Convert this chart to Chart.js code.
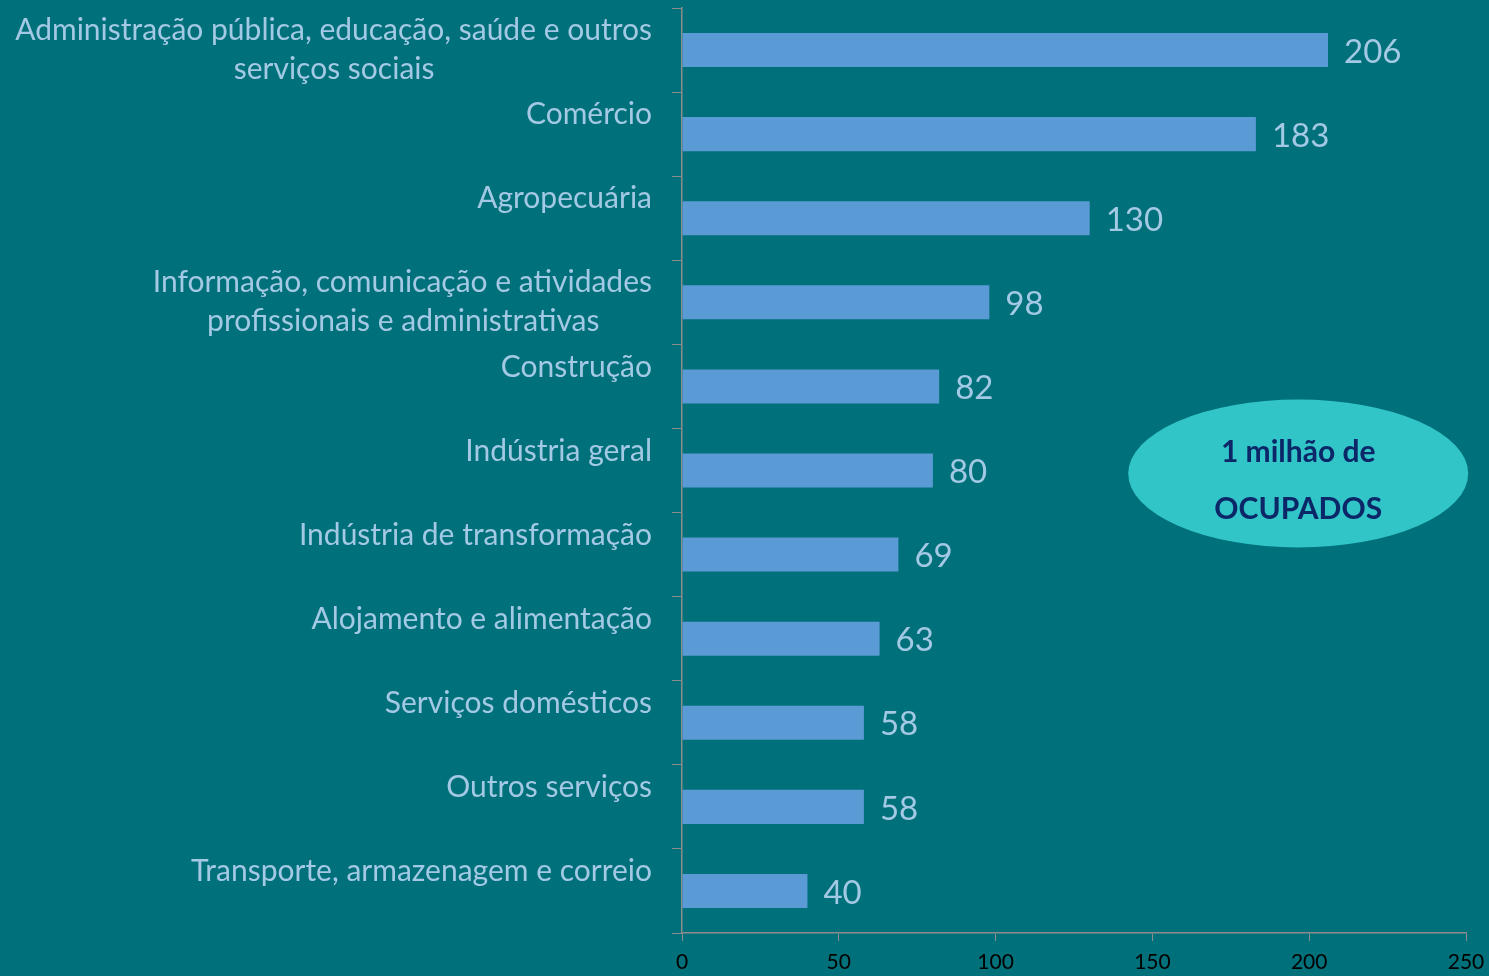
<!DOCTYPE html>
<html>
<head>
<meta charset="utf-8">
<script src="https://cdn.jsdelivr.net/npm/chart.js@4"></script>
<style>
  html, body { margin: 0; padding: 0; background: #00707a; }
  #wrap { width: 1489px; height: 976px; }
</style>
</head>
<body>
<div id="wrap"><canvas id="ocupchart"></canvas></div>
<script>
const categories = [
    ["Administração pública, educação, saúde e outros", "serviços sociais"],
    ["Comércio", ""],
    ["Agropecuária", ""],
    ["Informação, comunicação e atividades", "profissionais e administrativas"],
    ["Construção", ""],
    ["Indústria geral", ""],
    ["Indústria de transformação", ""],
    ["Alojamento e alimentação", ""],
    ["Serviços domésticos", ""],
    ["Outros serviços", ""],
    ["Transporte, armazenagem e correio", ""]
];
const ocupados = [206, 183, 130, 98, 82, 80, 69, 63, 58, 58, 40];
const xTicks = [0, 50, 100, 150, 200, 250];
const calloutLines = ["1 milhão de", "OCUPADOS"];

const labelColor = "#a3c9e4";
const axisColor = "#8c8c8c";
const fontName = "Lato, 'Open Sans', sans-serif";
const catFontSize = 30;

// second lines are centred under the first one: pad them on the right
const measureCtx = document.createElement("canvas").getContext("2d");
measureCtx.font = catFontSize + "px " + fontName;
const padChar = "\u200A";
let padW = measureCtx.measureText(padChar).width;
const padStr = padW > 0.5 ? padChar : " ";
if (padW <= 0.5) padW = measureCtx.measureText(" ").width;

const tickLabels = categories.map(function(lines) {
    if (lines[1] === "") return lines;
    const gap = (measureCtx.measureText(lines[0]).width - measureCtx.measureText(lines[1]).width) / 2;
    return [lines[0], lines[1] + padStr.repeat(Math.max(0, Math.round(gap / padW)))];
});

// value labels to the right of each bar
const valueLabels = {
    id: "valueLabels",
    afterDatasetsDraw(chart) {
        const ctx = chart.ctx;
        const meta = chart.getDatasetMeta(0);
        ctx.save();
        ctx.font = "33px " + fontName;
        ctx.fillStyle = labelColor;
        ctx.textAlign = "left";
        ctx.textBaseline = "middle";
        meta.data.forEach(function(bar, i) {
            ctx.fillText(String(ocupados[i]), bar.x + 16, bar.y + 2);
        });
        ctx.restore();
    }
};

// the "1 milhão de OCUPADOS" bubble
const callout = {
    id: "callout",
    afterDraw(chart) {
        const ctx = chart.ctx;
        const x = chart.scales.x.getPixelForValue(196.5);
        const y = chart.scales.y.getPixelForValue(5) + 3;
        ctx.save();
        ctx.fillStyle = "#31c5c8";
        ctx.beginPath();
        ctx.ellipse(x, y, 170, 74, 0, 0, Math.PI * 2);
        ctx.fill();
        ctx.fillStyle = "#0b2768";
        ctx.font = "bold 30px " + fontName;
        ctx.textAlign = "center";
        ctx.textBaseline = "middle";
        ctx.fillText(calloutLines[0], x, y - 21);
        ctx.fillText(calloutLines[1], x, y + 36);
        ctx.restore();
    }
};

new Chart(document.getElementById("ocupchart"), {
    type: "bar",
    data: {
        labels: tickLabels,
        datasets: [{
            label: "Ocupados",
            data: ocupados,
            backgroundColor: "#5b9bd5",
            borderWidth: 0,
            barPercentage: 0.405,
            categoryPercentage: 1
        }]
    },
    options: {
        indexAxis: "y",
        responsive: true,
        maintainAspectRatio: false,
        animation: false,
        layout: { padding: { top: 8, right: 23, left: 0, bottom: 0 } },
        plugins: {
            legend: { display: false },
            tooltip: { enabled: false }
        },
        scales: {
            x: {
                min: 0,
                max: 250,
                afterBuildTicks: function(axis) {
                    axis.ticks = xTicks.map(function(v) { return { value: v }; });
                },
                afterFit: function(axis) {
                    axis.height = 43;
                    axis.paddingLeft = 0;
                    axis.paddingRight = 0;
                },
                grid: {
                    drawOnChartArea: false,
                    tickLength: 8,
                    color: axisColor
                },
                border: { display: true, color: axisColor, width: 1.5 },
                ticks: {
                    color: "#000000",
                    padding: 9,
                    font: { family: fontName, size: 21 }
                }
            },
            y: {
                afterFit: function(axis) {
                    axis.width = 682;
                    axis.paddingTop = 0;
                    axis.paddingBottom = 0;
                },
                grid: {
                    drawOnChartArea: false,
                    offset: true,
                    tickLength: 10,
                    color: axisColor
                },
                border: { display: true, color: axisColor, width: 1.5 },
                ticks: {
                    color: labelColor,
                    padding: 20,
                    font: { family: fontName, size: catFontSize, lineHeight: 1.3 }
                }
            }
        }
    },
    plugins: [valueLabels, callout]
});
</script>
</body>
</html>
